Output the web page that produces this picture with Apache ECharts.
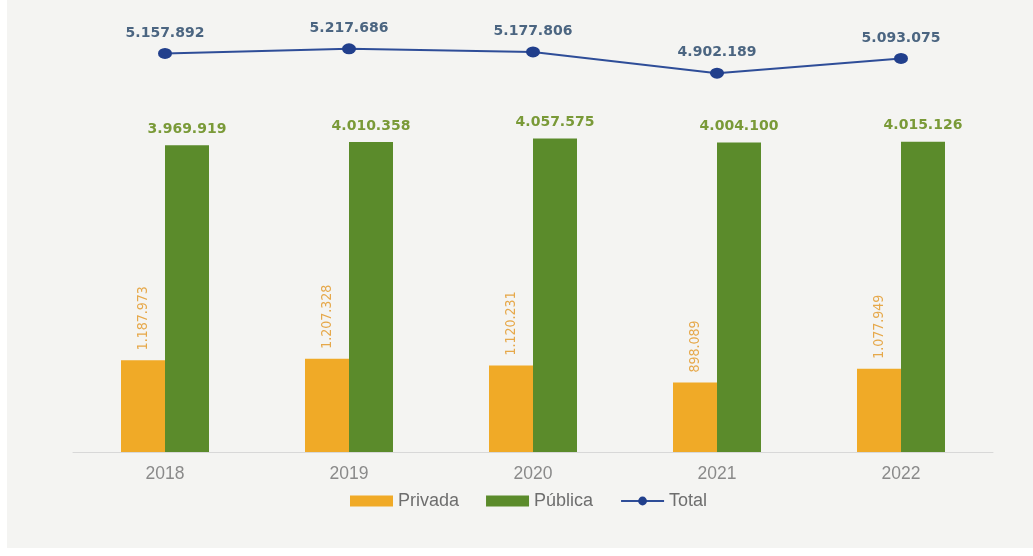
<!DOCTYPE html>
<html>
<head>
<meta charset="utf-8">
<script src="https://cdn.jsdelivr.net/npm/echarts@6/dist/echarts.min.js"></script>
<style>
  html, body { margin: 0; padding: 0; background: #ffffff; }
  #chart { position: absolute; left: 7px; top: 0; width: 1026px; height: 548px; }
</style>
</head>
<body>
<div id="chart"></div>
<script>
// Matrícula por sector, 2018-2022
const years = ['2018', '2019', '2020', '2021', '2022'];
const privada = [1187973, 1207328, 1120231, 898089, 1077949];
const publica = [3969919, 4010358, 4057575, 4004100, 4015126];
const total = [5157892, 5217686, 5177806, 4902189, 5093075];

// Thousands separated with dots: 5157892 -> "5.157.892"
function fmt(v) {
  return String(Math.round(v)).replace(/\B(?=(\d{3})+(?!\d))/g, '.');
}

const chart = echarts.init(document.getElementById('chart'), null, { renderer: 'canvas' });

chart.setOption({
  backgroundColor: '#f4f4f2',
  animation: false,
  grid: { left: 66, right: 40, top: 27, bottom: 96 },
  legend: {
    left: 338,
    top: 487,
    itemWidth: 43,
    itemHeight: 11,
    itemGap: 27,
    textStyle: { color: '#6e6e6e', fontSize: 18, fontFamily: 'Liberation Sans, Arial, sans-serif' },
    data: [
      { name: 'Privada', icon: 'rect' },
      { name: 'Pública', icon: 'rect' },
      { name: 'Total' }
    ]
  },
  xAxis: {
    type: 'category',
    data: years,
    axisLine: { lineStyle: { color: '#d8d8d8', width: 1 } },
    axisTick: { show: false },
    axisLabel: {
      color: '#8a8a8a',
      fontSize: 17.5,
      margin: 13,
      fontFamily: 'Liberation Sans, Arial, sans-serif'
    }
  },
  yAxis: {
    type: 'value',
    min: 0,
    max: 5500000,
    show: false,
    splitLine: { show: false }
  },
  series: [
    {
      name: 'Privada',
      type: 'bar',
      data: privada,
      barWidth: 44,
      barGap: '0%',
      itemStyle: { color: '#f0aa27' },
      label: {
        show: true,
        position: 'top',
        rotate: 90,
        align: 'left',
        verticalAlign: 'middle',
        distance: 10,
        color: '#e6a84a',
        fontSize: 14,
        fontFamily: 'Liberation Sans Narrow, DejaVu Sans Condensed, sans-serif',
        formatter: p => fmt(p.value)
      }
    },
    {
      name: 'Pública',
      type: 'bar',
      data: publica,
      barWidth: 44,
      itemStyle: { color: '#5b8b2b' },
      label: {
        show: true,
        position: 'top',
        distance: 9,
        color: '#7a9a38',
        fontSize: 14,
        fontWeight: 'bold',
        fontFamily: 'DejaVu Sans, sans-serif',
        formatter: p => fmt(p.value)
      }
    },
    {
      name: 'Total',
      type: 'line',
      data: total,
      symbol: 'circle',
      symbolSize: [14, 11],
      itemStyle: { color: '#213f8c' },
      lineStyle: { color: '#2e4d98', width: 2 },
      label: {
        show: true,
        position: 'top',
        distance: 8,
        color: '#4b6581',
        fontSize: 14,
        fontWeight: 'bold',
        fontFamily: 'DejaVu Sans, sans-serif',
        formatter: p => fmt(p.value)
      }
    }
  ]
});
</script>
</body>
</html>
